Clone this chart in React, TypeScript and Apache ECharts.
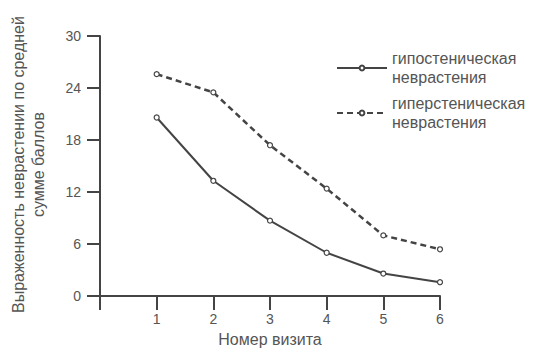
import React, { useEffect, useRef } from "react";
import * as echarts from "echarts";

const visits = [0, 1, 2, 3, 4, 5, 6];
const hypoValues = [20.6, 13.3, 8.7, 5.0, 2.6, 1.6];
const hyperValues = [25.6, 23.5, 17.4, 12.4, 7.0, 5.4];
const yTicks = [0, 6, 12, 18, 24, 30];
const seriesNames = ["гипостеническая\nневрастения", "гиперстеническая\nневрастения"];
const xTitle = "Номер визита";
const yTitle = "Выраженность неврастении по средней\nсумме баллов";

const FONT = "Liberation Sans, Arial, sans-serif";
const TEXT = "#555";
const LINE = "#444";

export default function App() {
  const ref = useRef<HTMLDivElement>(null);
  useEffect(() => {
    if (!ref.current) return;
    const chart = echarts.init(ref.current, null, { renderer: "svg" });
    const pts = (vals: number[]) => vals.map((v, i) => [visits[i + 1], v]);
    chart.setOption({
      animation: false,
      backgroundColor: "#fff",
      textStyle: { fontFamily: FONT },
      grid: { left: 96, top: 36, width: 344, height: 263 },
      legend: {
        orient: "vertical",
        left: 331,
        top: 44,
        itemWidth: 50,
        itemHeight: 6,
        itemGap: 7,
        textStyle: { fontFamily: FONT, fontSize: 16, color: TEXT, lineHeight: 19 },
        data: seriesNames,
      },
      xAxis: {
        type: "value",
        min: visits[0],
        max: visits[visits.length - 1],
        interval: 1,
        name: xTitle,
        nameLocation: "middle",
        nameGap: 32,
        nameTextStyle: { fontFamily: FONT, fontSize: 16, color: TEXT },
        splitLine: { show: false },
        axisLine: { lineStyle: { color: LINE, width: 2 } },
        axisTick: { show: true, length: 14, lineStyle: { color: LINE, width: 2 } },
        axisLabel: {
          margin: 16,
          fontFamily: FONT,
          fontSize: 14,
          color: TEXT,
          formatter: (v: number) => (v === 0 ? "" : String(v)),
        },
      },
      yAxis: {
        type: "value",
        min: yTicks[0],
        max: yTicks[yTicks.length - 1],
        interval: 6,
        name: yTitle,
        nameLocation: "middle",
        nameGap: 52,
        nameTextStyle: {
          fontFamily: FONT,
          fontSize: 16,
          color: TEXT,
          lineHeight: 20,
          padding: [0, 0, 0, 3],
        },
        splitLine: { show: false },
        axisLine: { lineStyle: { color: LINE, width: 2 } },
        axisTick: { show: true, length: 13, lineStyle: { color: LINE, width: 2 } },
        axisLabel: { margin: 19, fontFamily: FONT, fontSize: 14, color: TEXT },
      },
      series: [
        {
          name: seriesNames[0],
          type: "line",
          data: pts(hypoValues),
          symbol: "circle",
          symbolSize: 5,
          showSymbol: true,
          itemStyle: { color: "#fff", borderColor: LINE, borderWidth: 1.2 },
          lineStyle: { color: LINE, width: 2, type: "solid" },
        },
        {
          name: seriesNames[1],
          type: "line",
          data: pts(hyperValues),
          symbol: "circle",
          symbolSize: 5,
          showSymbol: true,
          itemStyle: { color: "#fff", borderColor: LINE, borderWidth: 1.2 },
          lineStyle: { color: LINE, width: 2.5, type: [6, 4] },
        },
      ],
    });
    return () => chart.dispose();
  }, []);
  return (
    <div
      ref={ref}
      style={{ position: "fixed", left: 0, top: 0, width: 533, height: 352 }}
    />
  );
}
